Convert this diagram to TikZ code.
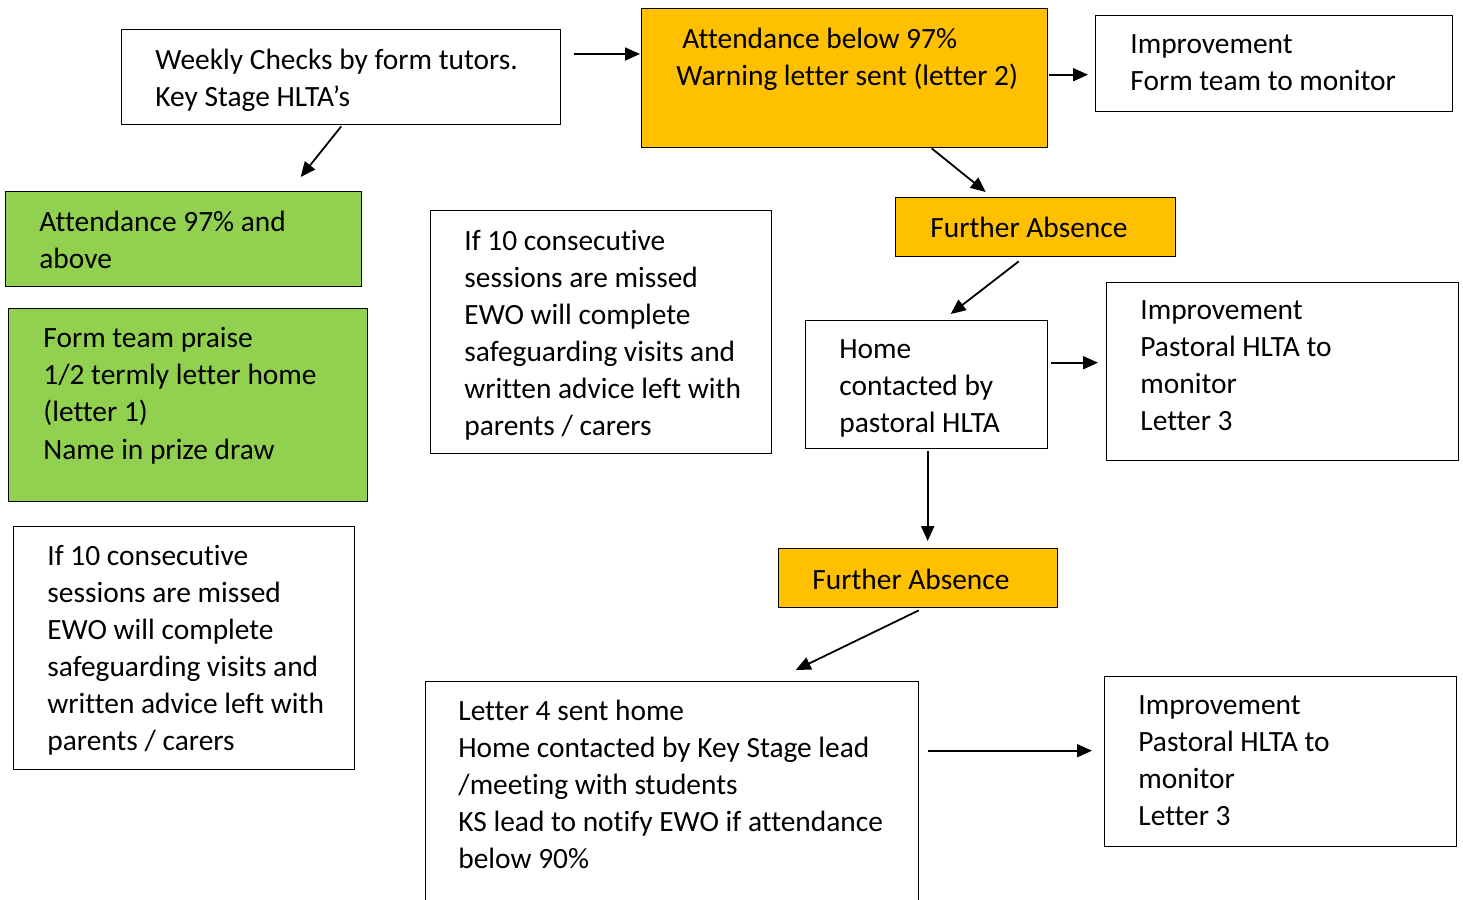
\documentclass[tikz,border=0pt]{standalone}
\usepackage{fontspec}
\setmainfont[Ligatures=NoCommon]{Carlito}
\usepackage{tikz}
\usepackage{xcolor}
\usetikzlibrary{arrows.meta,calc}
\definecolor{Amber}{HTML}{FFC000}
\definecolor{Leaf}{HTML}{92D050}
\tikzset{
    box/.style={
        draw=black, line width=0.7pt, inner sep=0pt,
        anchor=north west, sharp corners
    },
    amberbox/.style={box, fill=Amber},
    leafbox/.style={box, fill=Leaf},
    txt/.style={
        anchor=north west, inner sep=0pt, align=left,
        font=\fontsize{14.7}{18.5}\selectfont,
        execute at begin node=\strut
    },
    flow/.style={
        -{Triangle[length=7.5pt,width=6.5pt]}, line width=0.9pt
    },
}
\begin{document}
\begin{tikzpicture}[x=0.5pt, y=-0.5pt]
    \clip (0,0) rectangle (1463,900);
    \fill[white] (0,0) rectangle (1463,900);

    % Top row
    \node[box, minimum width=219.5pt, minimum height=47.5pt] (weekly) at (121,29) {};
    \node[txt] (weeklytxt) at (155,48.5) {Weekly Checks by form tutors.\\Key Stage HLTA’s};

    \node[amberbox, minimum width=203pt, minimum height=69.5pt] (below) at (641,8) {};
    \node[txt] (belowtxt) at (676,27.5) {\hspace{3pt}Attendance below 97\%\\Warning letter sent (letter 2)};

    \node[box, minimum width=178.5pt, minimum height=48pt] (improveA) at (1095,15) {};
    \node[txt] (improveAtxt) at (1130,34.5) {Improvement\\Form team to monitor};

    % Left column
    \node[leafbox, minimum width=178pt, minimum height=47.5pt] (good) at (5,191) {};
    \node[txt] (goodtxt) at (39,210.5) {Attendance 97\% and\\above};

    \node[leafbox, minimum width=179.5pt, minimum height=96.5pt] (praise) at (8,308) {};
    \node[txt, font=\fontsize{14.7}{18.65}\selectfont] (praisetxt) at (43,326.5) {Form team praise\\1/2 termly letter home\\(letter 1)\\Name in prize draw};

    \node[box, minimum width=170.5pt, minimum height=121.5pt] (ewoA) at (13,526) {};
    \node[txt] (ewoAtxt) at (47,544.5) {If 10 consecutive\\sessions are missed\\EWO will complete\\safeguarding visits and\\written advice left with\\parents / carers};

    % Middle
    \node[box, minimum width=170.5pt, minimum height=121.5pt] (ewoB) at (430,210) {};
    \node[txt] (ewoBtxt) at (464,229.5) {If 10 consecutive\\sessions are missed\\EWO will complete\\safeguarding visits and\\written advice left with\\parents / carers};

    \node[amberbox, minimum width=140pt, minimum height=29.5pt] (furtherA) at (895,197) {};
    \node[txt] (furtherAtxt) at (930,211.5) {Further Absence};

    \node[box, minimum width=121pt, minimum height=64pt] (home) at (805,320) {};
    \node[txt] (hometxt) at (839,339.5) {Home\\contacted by\\pastoral HLTA};

    \node[box, minimum width=176pt, minimum height=89pt] (improveB) at (1106,282) {};
    \node[txt] (improveBtxt) at (1140,300.5) {Improvement\\Pastoral HLTA to\\monitor\\Letter 3};

    \node[amberbox, minimum width=139.5pt, minimum height=29.5pt] (furtherB) at (778,548) {};
    \node[txt] (furtherBtxt) at (812,563.5) {Further Absence};

    % Bottom
    \node[box, minimum width=246.5pt, minimum height=119.5pt] (letter) at (425,681) {};
    \node[txt] (lettertxt) at (458,699.5) {Letter 4 sent home\\Home contacted by Key Stage lead\\/meeting with students\\KS lead to notify EWO if attendance\\below 90\%};

    \node[box, minimum width=176pt, minimum height=85pt] (improveC) at (1104,676) {};
    \node[txt] (improveCtxt) at (1138,695.5) {Improvement\\Pastoral HLTA to\\monitor\\Letter 3};

    % Connectors
    \draw[flow] ($(weekly.north east)+(13,25)$) -- ($(below.north west)+(-1,46)$);
    \draw[flow] ($(weekly.south)+(0,1)$) -- ($(good.north)+(117,-14)$);
    \draw[flow] ($(below.east)+(1,-3.5)$) -- ($(improveA.west)+(-7,11)$);
    \draw[flow] ($(below.south)+(87,0)$) -- ($(furtherA.north)+(-50,-5)$);
    \draw[flow] ($(furtherA.south)+(-17,4)$) -- ($(home.north)+(24,-6)$);
    \draw[flow] ($(home.east)+(3,-22)$) -- ($(improveB.west)+(-8,-9)$);
    \draw[flow] ($(home.south)+(1,2)$) -- ($(furtherB.north)+(9.5,-7)$);
    \draw[flow] ($(furtherB.south)+(0.5,2)$) -- ($(letter.north)+(123.5,-11)$);
    \draw[flow] ($(letter.east)+(9,-50.5)$) -- ($(improveC.west)+(-12,-11)$);
\end{tikzpicture}
\end{document}
